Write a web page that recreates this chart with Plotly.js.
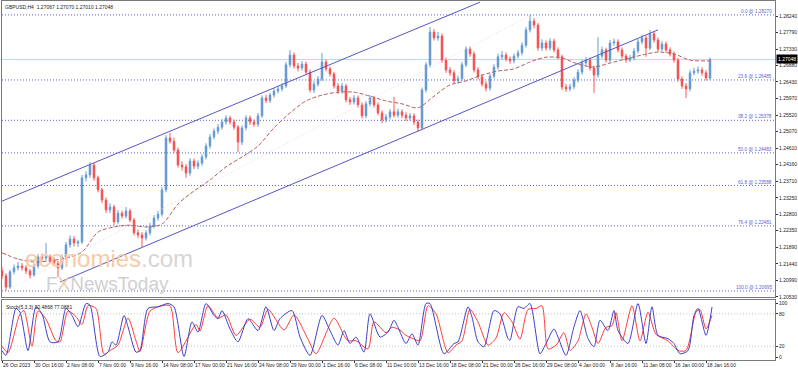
<!DOCTYPE html>
<html><head><meta charset="utf-8">
<script src="https://cdn.plot.ly/plotly-3.0.1.min.js"></script>
<style>html,body{margin:0;padding:0;background:#fff}#chart{width:798px;height:371px}</style>
</head><body><div id="chart"></div>
<script>
// ---- header values ----
const symbolName = "GBPUSD,H4";
const headerOHLC = [1.27067, 1.27070, 1.27010, 1.27048];
const stochName = "Stoch(5,3,3)";
const stochHeader = [92.4868, 77.0881];

// ---- candles (each = two H4 bars) ----
const candleOpen = [1.2125,1.2111,1.2080,1.2122,1.2133,1.2138,1.2133,1.2124,1.2113,1.2138,
1.2163,1.2160,1.2163,1.2154,1.2146,1.2133,1.2163,1.2196,1.2212,1.2201,
1.2204,1.2380,1.2388,1.2415,1.2380,1.2347,1.2319,1.2292,1.2300,1.2259,
1.2283,1.2275,1.2289,1.2264,1.2229,1.2223,1.2215,1.2229,1.2248,1.2270,
1.2280,1.2347,1.2489,1.2480,1.2456,1.2415,1.2410,1.2393,1.2426,1.2412,
1.2420,1.2437,1.2467,1.2492,1.2508,1.2519,1.2533,1.2544,1.2533,1.2519,
1.2478,1.2517,1.2544,1.2533,1.2527,1.2550,1.2599,1.2592,1.2607,1.2618,
1.2624,1.2632,1.2690,1.2717,1.2687,1.2681,1.2692,1.2670,1.2621,1.2637,
1.2651,1.2698,1.2679,1.2665,1.2632,1.2618,1.2632,1.2594,1.2588,1.2599,
1.2580,1.2550,1.2583,1.2599,1.2580,1.2558,1.2539,1.2547,1.2561,1.2552,
1.2561,1.2552,1.2544,1.2550,1.2533,1.2517,1.2621,1.2690,1.2780,1.2764,
1.2769,1.2703,1.2676,1.2668,1.2646,1.2652,1.2690,1.2733,1.2720,1.2676,
1.2657,1.2637,1.2626,1.2659,1.2684,1.2712,1.2717,1.2706,1.2701,1.2714,
1.2723,1.2744,1.2786,1.2810,1.2799,1.2736,1.2750,1.2736,1.2755,1.2731,
1.2712,1.2629,1.2624,1.2630,1.2648,1.2670,1.2695,1.2703,1.2681,1.2662,
1.2714,1.2731,1.2703,1.2750,1.2753,1.2731,1.2714,1.2703,1.2709,1.2728,
1.2753,1.2764,1.2736,1.2775,1.2758,1.2733,1.2747,1.2731,1.2720,1.2703,
1.2651,1.2632,1.2624,1.2668,1.2673,1.2676,1.2668,1.2654];
const candleHigh = [1.2135,1.2118,1.2128,1.2142,1.2149,1.2146,1.2140,1.2130,1.2145,1.2171,
1.2172,1.2201,1.2170,1.2161,1.2152,1.2170,1.2204,1.2222,1.2220,1.2210,
1.2388,1.2398,1.2423,1.2420,1.2386,1.2352,1.2326,1.2310,1.2306,1.2292,
1.2290,1.2300,1.2295,1.2270,1.2238,1.2231,1.2236,1.2256,1.2278,1.2289,
1.2355,1.2497,1.2503,1.2490,1.2463,1.2425,1.2418,1.2434,1.2433,1.2428,
1.2445,1.2475,1.2500,1.2516,1.2528,1.2541,1.2552,1.2550,1.2540,1.2525,
1.2524,1.2552,1.2551,1.2540,1.2558,1.2606,1.2608,1.2614,1.2626,1.2632,
1.2640,1.2698,1.2731,1.2724,1.2695,1.2700,1.2699,1.2677,1.2645,1.2659,
1.2723,1.2705,1.2686,1.2671,1.2640,1.2640,1.2638,1.2602,1.2607,1.2606,
1.2587,1.2591,1.2607,1.2605,1.2587,1.2565,1.2555,1.2569,1.2602,1.2570,
1.2568,1.2560,1.2558,1.2557,1.2540,1.2628,1.2698,1.2794,1.2788,1.2780,
1.2776,1.2710,1.2684,1.2675,1.2660,1.2698,1.2741,1.2740,1.2727,1.2684,
1.2664,1.2645,1.2666,1.2692,1.2720,1.2728,1.2724,1.2713,1.2721,1.2731,
1.2752,1.2794,1.2827,1.2818,1.2805,1.2760,1.2757,1.2763,1.2762,1.2738,
1.2718,1.2637,1.2638,1.2656,1.2678,1.2703,1.2712,1.2710,1.2688,1.2766,
1.2740,1.2737,1.2758,1.2762,1.2760,1.2738,1.2720,1.2717,1.2736,1.2761,
1.2772,1.2770,1.2786,1.2782,1.2765,1.2755,1.2754,1.2738,1.2727,1.2709,
1.2658,1.2640,1.2676,1.2682,1.2686,1.2683,1.2675,1.2710];
const candleLow = [1.2102,1.2070,1.2075,1.2115,1.2126,1.2125,1.2116,1.2104,1.2108,1.2131,
1.2150,1.2152,1.2145,1.2138,1.2108,1.2127,1.2156,1.2188,1.2192,1.2190,
1.2198,1.2370,1.2380,1.2372,1.2340,1.2310,1.2284,1.2283,1.2250,1.2252,
1.2268,1.2268,1.2258,1.2222,1.2214,1.2190,1.2208,1.2222,1.2241,1.2262,
1.2274,1.2340,1.2474,1.2448,1.2408,1.2400,1.2380,1.2386,1.2404,1.2404,
1.2413,1.2430,1.2460,1.2485,1.2500,1.2512,1.2526,1.2526,1.2512,1.2451,
1.2470,1.2510,1.2525,1.2520,1.2520,1.2544,1.2585,1.2585,1.2600,1.2611,
1.2617,1.2626,1.2683,1.2680,1.2672,1.2674,1.2663,1.2614,1.2613,1.2630,
1.2645,1.2672,1.2658,1.2625,1.2610,1.2611,1.2587,1.2580,1.2581,1.2573,
1.2543,1.2544,1.2576,1.2573,1.2551,1.2530,1.2532,1.2540,1.2545,1.2545,
1.2544,1.2536,1.2537,1.2525,1.2506,1.2510,1.2614,1.2683,1.2757,1.2756,
1.2696,1.2668,1.2660,1.2638,1.2638,1.2645,1.2684,1.2712,1.2669,1.2650,
1.2630,1.2617,1.2619,1.2652,1.2677,1.2704,1.2699,1.2693,1.2694,1.2707,
1.2716,1.2737,1.2779,1.2790,1.2729,1.2728,1.2729,1.2729,1.2724,1.2705,
1.2621,1.2616,1.2617,1.2623,1.2641,1.2663,1.2688,1.2674,1.2613,1.2655,
1.2707,1.2696,1.2697,1.2742,1.2724,1.2707,1.2696,1.2697,1.2702,1.2721,
1.2746,1.2712,1.2730,1.2751,1.2726,1.2727,1.2724,1.2713,1.2696,1.2644,
1.2624,1.2599,1.2617,1.2661,1.2665,1.2660,1.2647,1.2648];
const candleClose = [1.2111,1.2080,1.2122,1.2133,1.2138,1.2133,1.2124,1.2113,1.2138,1.2163,
1.2160,1.2163,1.2154,1.2146,1.2133,1.2163,1.2196,1.2212,1.2201,1.2204,
1.2380,1.2388,1.2415,1.2380,1.2347,1.2319,1.2292,1.2300,1.2259,1.2283,
1.2275,1.2289,1.2264,1.2229,1.2223,1.2215,1.2229,1.2248,1.2270,1.2280,
1.2347,1.2489,1.2480,1.2456,1.2415,1.2410,1.2393,1.2426,1.2412,1.2420,
1.2437,1.2467,1.2492,1.2508,1.2519,1.2533,1.2544,1.2533,1.2519,1.2478,
1.2517,1.2544,1.2533,1.2527,1.2550,1.2599,1.2592,1.2607,1.2618,1.2624,
1.2632,1.2690,1.2717,1.2687,1.2681,1.2692,1.2670,1.2621,1.2637,1.2651,
1.2698,1.2679,1.2665,1.2632,1.2618,1.2632,1.2594,1.2588,1.2599,1.2580,
1.2550,1.2583,1.2599,1.2580,1.2558,1.2539,1.2547,1.2561,1.2552,1.2561,
1.2552,1.2544,1.2550,1.2533,1.2517,1.2621,1.2690,1.2780,1.2764,1.2769,
1.2703,1.2676,1.2668,1.2646,1.2652,1.2690,1.2733,1.2720,1.2676,1.2657,
1.2637,1.2626,1.2659,1.2684,1.2712,1.2717,1.2706,1.2701,1.2714,1.2723,
1.2744,1.2786,1.2810,1.2799,1.2736,1.2750,1.2736,1.2755,1.2731,1.2712,
1.2629,1.2624,1.2630,1.2648,1.2670,1.2695,1.2703,1.2681,1.2662,1.2714,
1.2731,1.2703,1.2750,1.2753,1.2731,1.2714,1.2703,1.2709,1.2728,1.2753,
1.2764,1.2736,1.2775,1.2758,1.2733,1.2747,1.2731,1.2720,1.2703,1.2651,
1.2632,1.2624,1.2668,1.2673,1.2676,1.2668,1.2654,1.2705];
const barsPerCandle = 2;

// ---- moving average (dashed brown), at H4 bar index ----
const maBar = [0,8,16,24,32,40,48,56,64,72,80,88,96,104,112,120,128,136,144,152,160,168,176,184,192,200,208,216,224,232,240,248,256,264,272,280,288,296,304,312,320,328,336,344,354];
const maValue = [1.2174,1.2157,1.2149,1.2152,1.2160,1.2176,1.2231,1.2245,1.2250,1.2245,1.2253,1.2308,1.2344,1.2374,1.2410,1.2437,1.2467,1.2517,1.2558,1.2591,1.2607,1.2615,1.2615,1.2604,1.2591,1.2583,1.2572,1.2604,1.2635,1.2646,1.2662,1.2673,1.2679,1.2698,1.2711,1.2709,1.2692,1.2684,1.2695,1.2706,1.2717,1.2725,1.2720,1.2703,1.2701];

// ---- drawn lines ----
const channelUpperBar = [0, 239];
const channelUpperPrice = [1.2316, 1.2862];
const channelLowerBar = [29, 328];
const channelLowerPrice = [1.2094, 1.2786];
const faintLineBar = [5.5, 262.5];
const faintLinePrice = [1.2080, 1.2821];

// ---- Fibonacci ----
const fibLevels = ["0.0", "23.6", "38.2", "50.0", "61.8", "76.4", "100.0"];
const fibPrices = [1.28270, 1.26485, 1.25378, 1.24483, 1.23588, 1.22481, 1.20695];

// ---- axes ----
const priceTicks = [1.28240,1.27790,1.27330,1.26880,1.26430,1.25970,1.25520,1.25070,1.24610,1.24160,1.23710,1.23250,1.22800,1.22350,1.21890,1.21440,1.20990,1.20530];
const timeLabels = ["26 Oct 2023","30 Oct 16:00","2 Nov 08:00","7 Nov 00:00","9 Nov 16:00","14 Nov 08:00","17 Nov 00:00","21 Nov 16:00","24 Nov 08:00","29 Nov 00:00","1 Dec 16:00","6 Dec 08:00","11 Dec 00:00","13 Dec 16:00","18 Dec 08:00","21 Dec 00:00","26 Dec 16:00","29 Dec 08:00","4 Jan 00:00","8 Jan 16:00","11 Jan 08:00","16 Jan 00:00","18 Jan 16:00"];
const barsPerLabel = 16;
const stochTicks = [0, 20, 80, 100];
const stochLevels = [20, 80];

// ---- stochastic (read at H4 bar index) ----
const kBar = [0,2,7,9,13,17,20,24,28,32,35,38,42,44,49,53,55,57,61,63,67,69,73,78,83,86,91,95,98,102,106,108,110,114,118,123,128,132,136,139,145,149,154,160,164,168,171,174,177,181,184,189,193,196,198,202,205,208,212,214,221,226,228,233,235,238,241,246,249,253,254,258,261,264,269,272,276,278,282,286,289,293,296,299,303,306,308,313,318,322,325,328,333,336,339,343,346,348,352,355];
const kValue = [12,3,90,83,12,93,80,28,28,90,77,56,99,96,1,9,28,22,77,56,9,12,90,93,99,93,1,65,46,99,77,71,86,52,28,71,49,93,49,71,86,37,3,77,49,22,49,25,37,9,80,37,46,68,55,25,43,22,99,99,6,25,28,93,74,28,19,86,80,34,31,93,90,99,6,25,52,37,3,56,86,34,19,68,49,86,49,25,99,25,93,40,34,25,6,12,77,90,40,92.4868];
const dBar = [0,3,9,11,15,18,22,27,29,33,37,40,43,47,51,54,58,63,67,69,74,79,84,88,97,99,103,108,112,117,124,129,133,141,146,153,157,166,171,173,177,183,186,192,195,199,202,205,209,213,217,223,227,230,234,238,243,247,251,255,259,263,267,270,273,277,281,284,288,292,295,298,302,305,307,310,315,319,323,327,333,338,342,347,349,352,355];
const dValue = [20,8,80,86,20,85,70,30,28,85,75,60,95,90,5,12,22,72,30,10,85,94,95,8,60,48,95,72,78,40,70,55,88,50,78,33,6,72,40,30,30,15,65,45,55,50,40,35,30,95,80,8,22,30,88,65,22,35,82,65,33,88,90,95,15,22,45,12,30,80,55,25,55,58,82,30,95,30,83,42,30,12,12,83,88,52,77.0881];

// ---- build ----
const candleBar = candleClose.map((_, i) => i * barsPerCandle);
const labelBar = timeLabels.map((_, i) => i * barsPerLabel);
const lastPrice = headerOHLC[3];
const fibColor = '#5f5fd4';
const xRange = [0, 386.5];

const traces = [
  {type:'scatter', mode:'lines', x:faintLineBar, y:faintLinePrice, xaxis:'x', yaxis:'y',
   line:{color:'#eed6db', width:1, dash:'1px,2px'}, hoverinfo:'skip'},
  {type:'scatter', mode:'lines', x:maBar, y:maValue, xaxis:'x', yaxis:'y',
   line:{color:'#b2605c', width:1, dash:'4px,2px', shape:'spline', smoothing:0.8}, hoverinfo:'skip'},
  {type:'candlestick', x:candleBar, open:candleOpen, high:candleHigh, low:candleLow, close:candleClose,
   xaxis:'x', yaxis:'y', whiskerwidth:0,
   increasing:{line:{color:'#6a9ed2', width:1}, fillcolor:'#3a77b8'},
   decreasing:{line:{color:'#f45a5a', width:1}, fillcolor:'#e01414'}, hoverinfo:'skip'},
  {type:'scatter', mode:'lines', x:channelUpperBar, y:channelUpperPrice, xaxis:'x', yaxis:'y',
   line:{color:'#5656c4', width:1}, hoverinfo:'skip'},
  {type:'scatter', mode:'lines', x:channelLowerBar, y:channelLowerPrice, xaxis:'x', yaxis:'y',
   line:{color:'#5656c4', width:1}, hoverinfo:'skip'},
  {type:'scatter', mode:'lines', x:dBar, y:dValue, xaxis:'x2', yaxis:'y2',
   line:{color:'#ff3b3b', width:1, shape:'spline', smoothing:0.7}, hoverinfo:'skip'},
  {type:'scatter', mode:'lines', x:kBar, y:kValue, xaxis:'x2', yaxis:'y2',
   line:{color:'#3f3fcc', width:1, shape:'spline', smoothing:0.7}, hoverinfo:'skip'}
];

const shapes = [];
fibPrices.forEach(p => shapes.push({type:'line', xref:'paper', x0:0, x1:1, yref:'y', y0:p, y1:p,
  line:{color:fibColor, width:1, dash:'1px,2px'}, layer:'below'}));
shapes.push({type:'line', xref:'paper', x0:0, x1:1, yref:'y', y0:lastPrice, y1:lastPrice,
  line:{color:'#aee0ea', width:1}, layer:'below'});
stochLevels.forEach(v => shapes.push({type:'line', xref:'paper', x0:0, x1:1, yref:'y2', y0:v, y1:v,
  line:{color:'#c4c4c4', width:1, dash:'1px,2px'}, layer:'below'}));

const nb = '\u00a0';
const annotations = [];
fibLevels.forEach((lv, i) => annotations.push({xref:'paper', x:1, xanchor:'right', xshift:-1,
  yref:'y', y:fibPrices[i], yanchor:'bottom', yshift:-1, showarrow:false,
  text: lv + ' @ ' + fibPrices[i].toFixed(5), font:{size:4.7, color:fibColor}}));
annotations.push({xref:'paper', x:1, xanchor:'left', xshift:1, yref:'y', y:lastPrice, yanchor:'middle',
  showarrow:false, text:lastPrice.toFixed(5), bgcolor:'#000000', borderpad:1,
  font:{size:5, color:'#ffffff'}});
annotations.push({xref:'paper', x:0, xanchor:'left', xshift:1, yref:'paper', y:1, yanchor:'top', yshift:-1,
  showarrow:false, text: symbolName + nb + nb + headerOHLC.map(v => v.toFixed(5)).join(' '),
  font:{size:5, color:'#222'}});
annotations.push({xref:'paper', x:0, xanchor:'left', xshift:2, yref:'paper', y:0.1671, yanchor:'top', yshift:-2,
  showarrow:false, text: stochName + ' ' + stochHeader.map(v => v.toFixed(4)).join(' '),
  font:{size:5, color:'#222'}});
// watermark
annotations.push({xref:'paper', x:0.028, xanchor:'left', yref:'paper', y:0.283, yanchor:'middle',
  showarrow:false, borderpad:0, text:'<span style="color:#f9caa6">economies</span><span style="color:#d6d6d6">.com</span>',
  font:{size:24, family:'Liberation Sans, Arial, sans-serif'}});
annotations.push({xref:'paper', x:0.056, xanchor:'left', yref:'paper', y:0.212, yanchor:'middle',
  showarrow:false, borderpad:0, text:'<span style="color:#d0d0d0">F</span><span style="color:#e8cfae">X</span><span style="color:#d0d0d0">NewsToday</span>',
  font:{size:19, family:'Liberation Sans, Arial, sans-serif'}});

const axisCommon = {showgrid:false, zeroline:false, showline:true, mirror:true, linecolor:'#7a7a7a', linewidth:1, fixedrange:true};
const layout = {
  width:798, height:371,
  margin:{l:2, r:23, t:1, b:11, pad:0},
  paper_bgcolor:'#ffffff', plot_bgcolor:'#ffffff',
  showlegend:false, boxgap:0.45,
  font:{family:'Liberation Sans, Arial, sans-serif', size:5, color:'#111'},
  xaxis:Object.assign({}, axisCommon, {domain:[0,1], anchor:'y', range:xRange, showticklabels:false, ticks:'', rangeslider:{visible:false}}),
  yaxis:Object.assign({}, axisCommon, {domain:[0.1755,1], anchor:'x', range:[1.20529,1.28652], side:'right',
    tickvals:priceTicks, ticktext:priceTicks.map(v => v.toFixed(5)), ticks:'outside', ticklen:2, tickcolor:'#333',
    tickfont:{size:5, color:'#222'}}),
  xaxis2:Object.assign({}, axisCommon, {domain:[0,1], anchor:'y2', range:xRange, matches:'x',
    tickvals:labelBar, ticktext:timeLabels, ticks:'outside', ticklen:2, tickcolor:'#333', tickangle:0,
    ticklabelposition:'outside right', tickfont:{size:5, color:'#222'}, rangeslider:{visible:false}}),
  yaxis2:Object.assign({}, axisCommon, {domain:[0,0.1671], anchor:'x2', range:[-5.56,105.56], side:'right',
    tickvals:stochTicks, ticktext:stochTicks.map(String), ticks:'outside', ticklen:2, tickcolor:'#333',
    tickfont:{size:5, color:'#222'}}),
  shapes:shapes,
  annotations:annotations
};
Plotly.newPlot('chart', traces, layout, {staticPlot:true, displayModeBar:false});
</script>
</body></html>
